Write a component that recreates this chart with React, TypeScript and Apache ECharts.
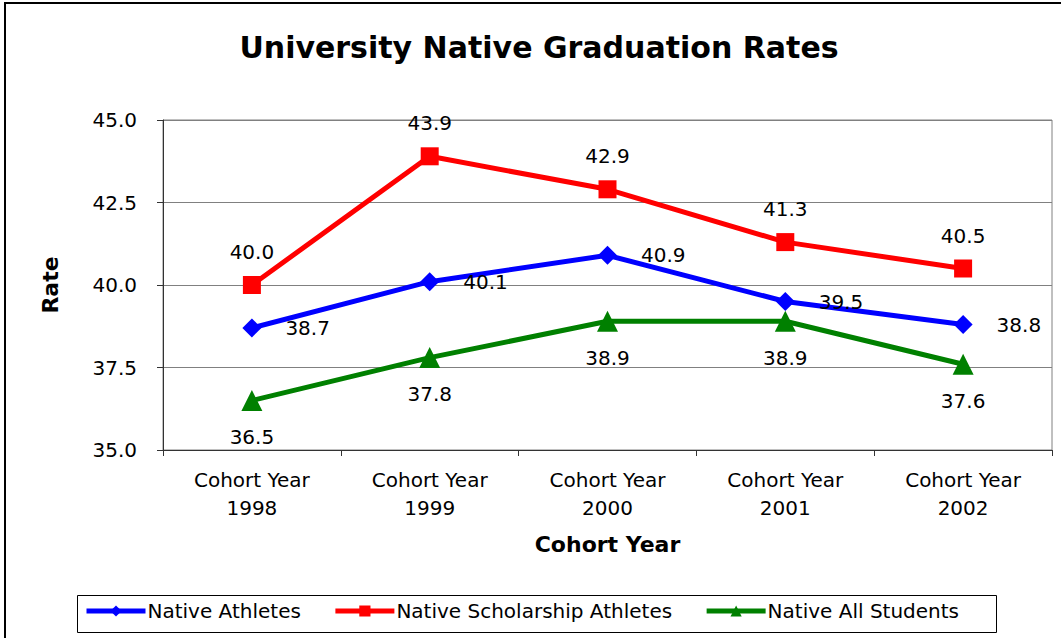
import React, { useEffect, useRef } from "react";
import * as echarts from "echarts";

const categories = [
  "Cohort Year\n1998",
  "Cohort Year\n1999",
  "Cohort Year\n2000",
  "Cohort Year\n2001",
  "Cohort Year\n2002",
];
const nativeAthletes = [38.7, 40.1, 40.9, 39.5, 38.8];
const nativeScholarshipAthletes = [40.0, 43.9, 42.9, 41.3, 40.5];
const nativeAllStudents = [36.5, 37.8, 38.9, 38.9, 37.6];

const FONT = "DejaVu Sans";

export default function App() {
  const ref = useRef<HTMLDivElement>(null);
  useEffect(() => {
    if (!ref.current) return;
    const chart = echarts.init(ref.current, null, { renderer: "svg" });
    const fmt = (p: any) => Number(p.value).toFixed(1);
    const labelBase = {
      show: true,
      color: "#000",
      fontFamily: FONT,
      fontSize: 20,
      formatter: fmt,
    };
    chart.setOption({
      animation: false,
      backgroundColor: "#fff",
      textStyle: { fontFamily: FONT },
      title: {
        text: "University Native Graduation Rates",
        left: 534,
        top: 27,
        textAlign: "center",
        textStyle: { fontFamily: FONT, fontSize: 30, fontWeight: "bold", color: "#000" },
      },
      graphic: [
        {
          type: "rect",
          shape: { x: 5, y: 3, width: 1100, height: 700 },
          style: { fill: "none", stroke: "#000", lineWidth: 2 },
          silent: true,
          z: -1,
        },
        {
          type: "rect",
          shape: { x: 77.5, y: 595.5, width: 919, height: 37 },
          style: { fill: "none", stroke: "#000", lineWidth: 1 },
          silent: true,
        },
      ],
      legend: {
        left: 84,
        top: 601,
        padding: 0,
        itemGap: 32,
        itemWidth: 59,
        itemHeight: 14,
        lineStyle: { width: 5 },
        textStyle: { fontFamily: FONT, fontSize: 20, color: "#000", padding: [0, 0, 0, -3] },
        data: ["Native Athletes", "Native Scholarship Athletes", "Native All Students"],
      },
      grid: {
        left: 163,
        top: 120,
        right: 9,
        bottom: 188,
        show: true,
        borderColor: "#808080",
        borderWidth: 1,
      },
      xAxis: {
        type: "category",
        data: categories,
        boundaryGap: true,
        name: "Cohort Year",
        nameLocation: "middle",
        nameGap: 83,
        nameTextStyle: { fontFamily: FONT, fontSize: 22, fontWeight: "bold", color: "#000" },
        axisLine: { lineStyle: { color: "#333", width: 1 } },
        axisTick: { show: true, length: 6, lineStyle: { color: "#333" } },
        axisLabel: {
          fontFamily: FONT,
          fontSize: 20,
          color: "#000",
          lineHeight: 28,
          margin: 16,
        },
      },
      yAxis: {
        type: "value",
        min: 35,
        max: 45,
        interval: 2.5,
        name: "Rate",
        nameLocation: "middle",
        nameGap: 102,
        nameRotate: 90,
        nameTextStyle: { fontFamily: FONT, fontSize: 22, fontWeight: "bold", color: "#000" },
        axisLine: { show: true, lineStyle: { color: "#333", width: 1 } },
        axisTick: { show: true, length: 6, lineStyle: { color: "#333" } },
        axisLabel: {
          fontFamily: FONT,
          fontSize: 20,
          color: "#000",
          margin: 26,
          formatter: (v: number) => v.toFixed(1),
        },
        splitLine: { show: true, lineStyle: { color: "#808080", width: 1 } },
      },
      series: [
        {
          name: "Native Athletes",
          type: "line",
          data: nativeAthletes,
          symbol: "diamond",
          symbolSize: 19,
          color: "#0000FF",
          lineStyle: { color: "#0000FF", width: 5 },
          itemStyle: { color: "#0000FF" },
          label: { ...labelBase, position: "right", distance: 24 },
          z: 3,
        },
        {
          name: "Native Scholarship Athletes",
          type: "line",
          data: nativeScholarshipAthletes,
          symbol: "rect",
          symbolSize: 18,
          color: "#FF0000",
          lineStyle: { color: "#FF0000", width: 5 },
          itemStyle: { color: "#FF0000" },
          label: { ...labelBase, position: "top", distance: 14 },
          z: 3,
        },
        {
          name: "Native All Students",
          type: "line",
          data: nativeAllStudents,
          symbol: "triangle",
          symbolSize: 21,
          color: "#008000",
          lineStyle: { color: "#008000", width: 5 },
          itemStyle: { color: "#008000" },
          label: { ...labelBase, position: "bottom", distance: 16 },
          z: 3,
        },
      ],
    });
    return () => chart.dispose();
  }, []);
  return (
    <div
      ref={ref}
      style={{ position: "fixed", left: 0, top: 0, width: 1061, height: 638 }}
    />
  );
}
